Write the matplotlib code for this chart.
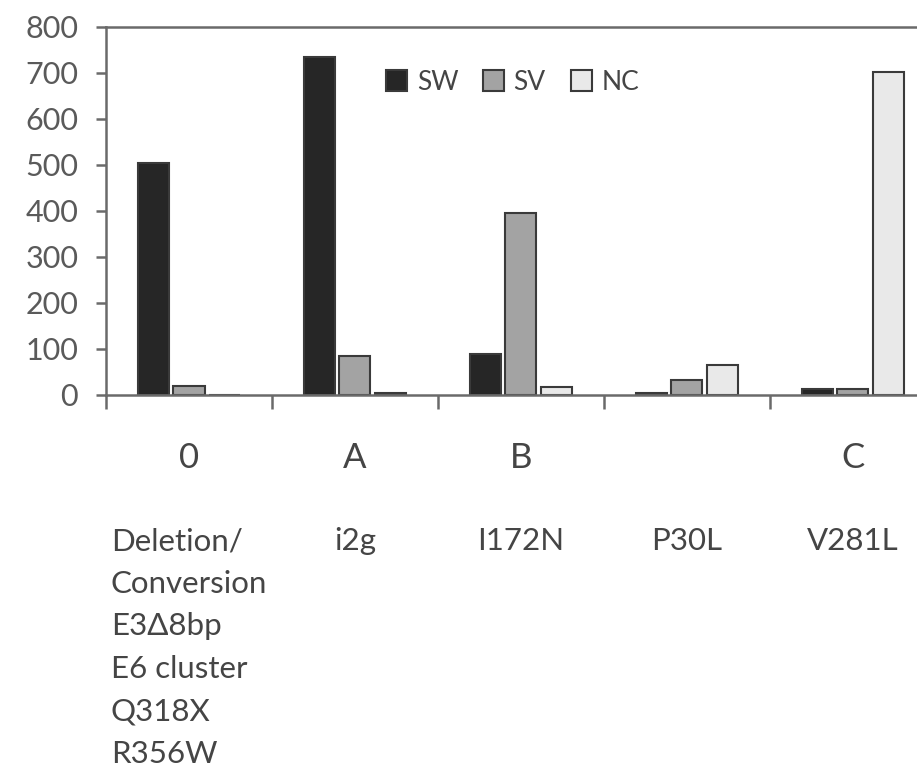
import numpy as np
import matplotlib
matplotlib.use('Agg')
import matplotlib.pyplot as plt

# data
groups = ['0', 'A', 'B', '', 'C']
mutations = ['Deletion/\nConversion\nE3\u03948bp\nE6 cluster\nQ318X\nR356W',
             'i2g', 'I172N', 'P30L', 'V281L']
sw = [505, 735, 90, 5, 12]
sv = [20, 85, 395, 32, 12]
nc = [0, 5, 18, 65, 702]

plt.rcParams['font.family'] = ['Lato', 'DejaVu Sans']

fig = plt.figure(figsize=(9.17, 7.68), dpi=100)
ax = fig.add_axes([0.1156, 0.4857, 0.905, 0.4792])

x = np.arange(len(groups))
w = 0.187
off = 0.215
ec = '#3a3a3a'
ax.bar(x - off, sw, w, color='#262626', edgecolor=ec, linewidth=1.5, label='SW')
ax.bar(x, sv, w, color='#a3a3a3', edgecolor=ec, linewidth=1.5, label='SV')
ax.bar(x + off, nc, w, color='#e9e9e9', edgecolor=ec, linewidth=1.5, label='NC')

ax.set_xlim(-0.5, len(groups) - 0.5)
ax.set_ylim(0, 800)
ax.set_yticks(np.arange(0, 801, 100))
ax.tick_params(axis='y', labelsize=22, labelcolor='#5a5a5a', color='#6a6a6a',
               length=7, width=1.8, pad=13)

# boundary ticks between the groups, no labels
ax.set_xticks(np.arange(-0.5, len(groups) - 0.4, 1))
ax.set_xticklabels([])
ax.tick_params(axis='x', length=10, width=1.8, color='#6a6a6a')

for s in ['left', 'bottom', 'top', 'right']:
    ax.spines[s].set_color('#6a6a6a')
    ax.spines[s].set_linewidth(1.8)

trans = ax.get_xaxis_transform()
for i in range(len(groups)):
    ax.text(x[i], -0.171, groups[i], transform=trans, ha='center', va='center',
            fontsize=25, color='#454545')
    ax.text(x[i], -0.36, mutations[i], transform=trans, ha='center', va='top',
            multialignment='left', fontsize=22.5, color='#454545', linespacing=1.63)

ax.legend(loc='center', bbox_to_anchor=(0.49, 0.85), ncol=3, frameon=False,
          fontsize=19, handlelength=0.8, handleheight=0.8, handletextpad=0.35,
          columnspacing=0.95, labelcolor='#454545', borderaxespad=0, borderpad=0)

fig.savefig('out.png', dpi=100)
